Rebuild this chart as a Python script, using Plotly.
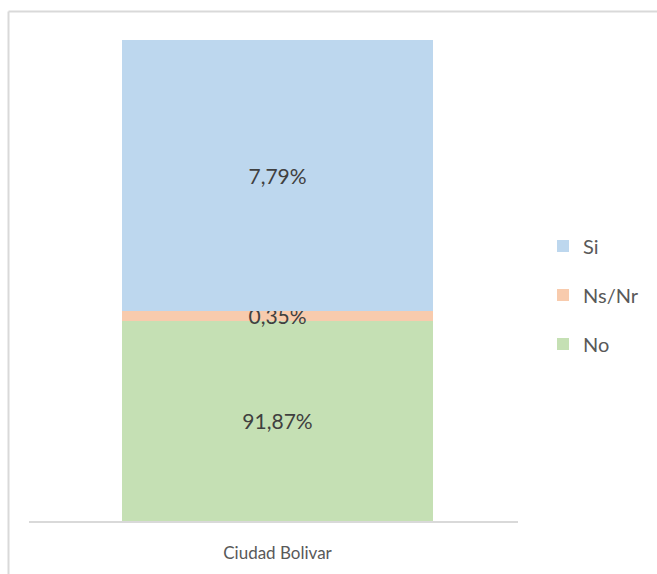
import plotly.graph_objects as go

categories = ["Ciudad Bolivar"]
series_names = ["No", "Ns/Nr", "Si"]
# percentages shown in the data labels
label_values = [91.87, 0.35, 7.79]
# segment heights as drawn in the picture (share of the bar)
drawn_heights = [41.6, 2.1, 56.3]
colors = ["#C5E0B4", "#F8CBAD", "#BDD7EE"]
legend_ranks = [3, 2, 1]

fig = go.Figure()
for name, lab, h, col, rk in zip(series_names, label_values, drawn_heights, colors, legend_ranks):
    txt = f"{lab:.2f}".replace(".", ",") + "%"
    fig.add_trace(go.Bar(
        x=categories, y=[h], name=name, marker_color=col, marker_line_width=0,
        text=[txt], textposition="inside", insidetextanchor="middle",
        constraintext="none", textangle=0,
        textfont=dict(size=21, color="#404040", family="Lato"),
        legendgroup=name, legendrank=rk, hoverinfo="skip",
    ))

W, H = 657, 574
L, R, T, B = 29, 518, 40, 521
pw, ph = R - L, B - T

def px(x):
    return (x - L) / pw

def py(y):
    return (B - y) / ph

fig.update_layout(
    width=W, height=H,
    margin=dict(l=L, r=W - R, t=T, b=H - B, pad=0, autoexpand=False),
    barmode="stack", bargap=0.364,
    plot_bgcolor="white", paper_bgcolor="white",
    font=dict(family="Lato", color="#595959"),
    showlegend=True,
    legend=dict(
        x=px(543), xanchor="left", y=py(295), yanchor="middle",
        traceorder="grouped", tracegroupgap=20,
        font=dict(size=20, color="#595959", family="Lato"),
        bgcolor="rgba(0,0,0,0)",
    ),
    xaxis=dict(
        type="category", range=[-0.5082, 0.4918], automargin=False,
        showline=True, linecolor="#D9D9D9", linewidth=2,
        showgrid=False, zeroline=False, ticks="",
        tickfont=dict(size=17, color="#595959", family="Lato"),
        ticklabelstandoff=16,
    ),
    yaxis=dict(range=[0, 100], visible=False, showgrid=False, zeroline=False,
               automargin=False),
    shapes=[
        dict(type="line", xref="paper", yref="paper",
             x0=px(8.5), x1=px(660), y0=py(11.5), y1=py(11.5),
             line=dict(color="#D9D9D9", width=2)),
        dict(type="line", xref="paper", yref="paper",
             x0=px(8.5), x1=px(8.5), y0=py(11.5), y1=py(580),
             line=dict(color="#D9D9D9", width=2)),
    ],
)

fig.write_html("out.html", config={"displayModeBar": False},
               post_script="document.body.style.margin='0';document.body.style.overflow='hidden';")
